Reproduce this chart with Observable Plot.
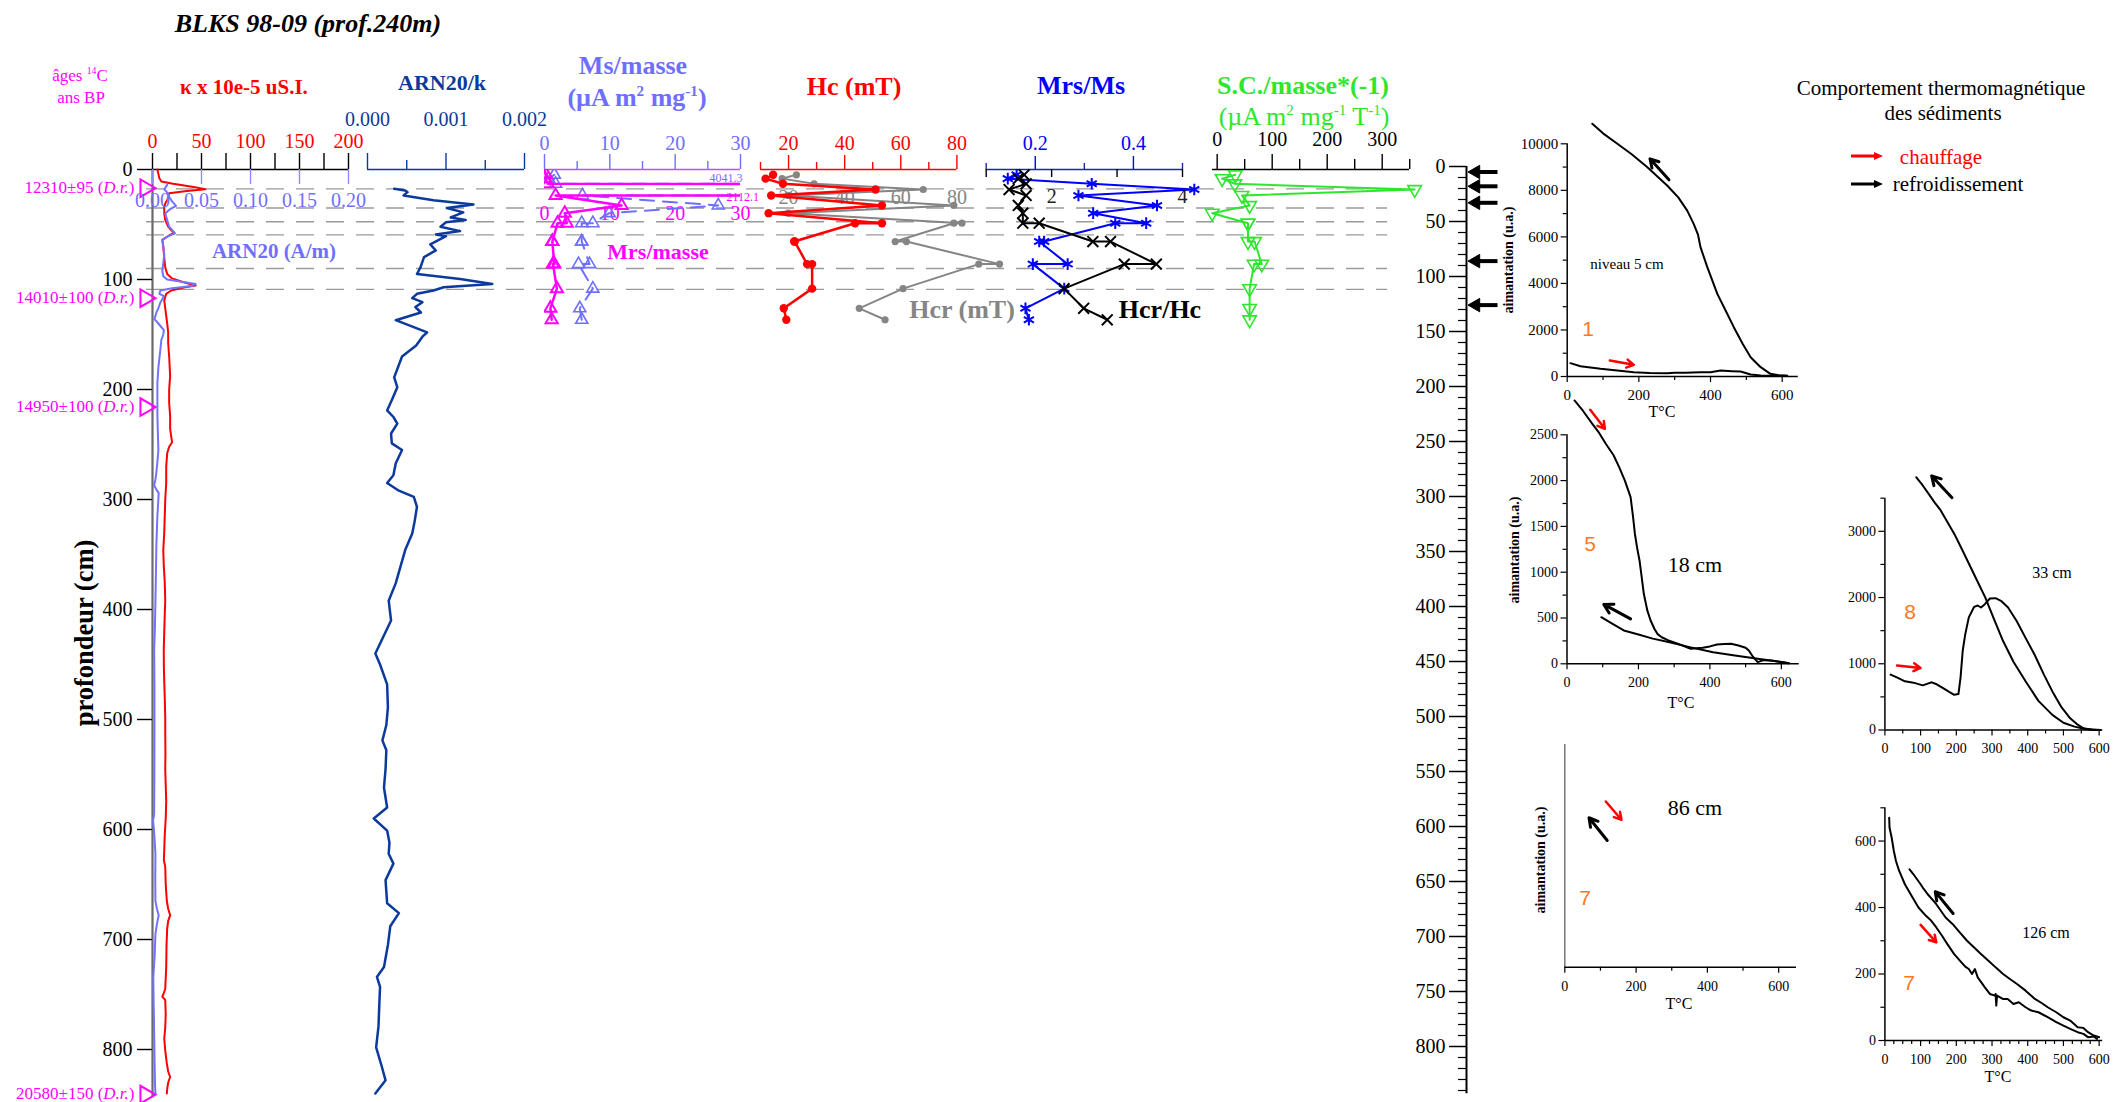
<!DOCTYPE html>
<html lang="fr">
<head>
<meta charset="utf-8">
<title>BLKS 98-09 (prof.240m)</title>
<script src="https://cdn.jsdelivr.net/npm/d3@7"></script>
<script src="https://cdn.jsdelivr.net/npm/@observablehq/plot@0.6"></script>
<style>
html,body{margin:0;padding:0;background:#fff;}
#root{position:relative;width:2114px;height:1102px;overflow:hidden;background:#fff;font-family:"Liberation Serif","Times New Roman",serif;color:#000;}
#root > svg{position:absolute;left:0;top:0;}
.t{position:absolute;white-space:nowrap;transform:translate(-50%,-50%);line-height:1;}
.b{font-weight:bold;}
.rot{transform:translate(-50%,-50%) rotate(-90deg);}
.o{font-family:"Liberation Sans",Arial,sans-serif;color:#ff7722;font-size:21px;}
sup{font-size:0.58em;vertical-align:0.65em;line-height:0;}
</style>
</head>
<body>
<div id="root"></div>
<script>
// ===================== DATA =====================
// kappa (x 1e-5 SI) : [depth cm, value]
const kappa = [[0,5],[4,6],[8,7],[11,9],[13,21],[16,42],[18,54],[19.5,35],[21.5,17],[25,16],[28,15],[31,13],[34,12],[40,12],[46,13],[52,16],[55,19],[57.6,22],[60,17],[64,10],[70,11],[80,12],[89,13],[95,15],[99,20],[102,30],[105.5,44],[107,33],[110,19],[113,14],[119,12],[126,13],[133,14],[140,15],[148,16],[158,16],[170,17],[188,18],[200,17],[212,17],[224,18],[236,18],[248,20],[252,17],[258,15],[270,14],[285,14],[300,13],[315,12.5],[330,12],[346,11],[360,11.5],[375,12.5],[392,13],[405,12.5],[420,12],[437,11.5],[452,11.6],[466,12],[480,12.5],[498,13],[513,13],[530,13.2],[545,13],[560,13.5],[574,14],[590,13.5],[605,12.5],[618,12],[628,11.6],[634,13],[650,13.5],[665,14.6],[672,16],[678,18],[683,16],[690,15],[705,14.3],[725,14],[745,13],[750,11],[752,10],[755,13],[768,13.5],[780,13],[790,12],[801,13],[812,14.5],[820,16],[825,18],[830,16],[836,15],[840,14.6]];
// ARN20 (A/m) : [depth, value]
const arn20 = [[14,0.015],[18,0.012],[22,0.016],[25,0.017],[29,0.020],[33,0.024],[36,0.018],[40,0.013],[43,0.014],[46,0.015],[52,0.017],[55,0.020],[58,0.023],[61,0.015],[64,0.010],[70,0.011],[77,0.012],[85,0.011],[92,0.010],[97,0.011],[100,0.015],[102,0.030],[104,0.044],[106,0.040],[108,0.020],[110,0.008],[113,0.007],[115,0.0116],[118,0.010],[121,0.008],[126,0.006],[130,0.004],[136,0.002],[140,0.006],[146,0.0116],[150,0.011],[155,0.009],[164,0.008],[180,0.006],[194,0.005],[210,0.005],[224,0.005],[240,0.0055],[255,0.006],[268,0.0048],[275,0.004],[282,0.003],[287,0.0017],[291,0.004],[294,0.0063],[303,0.0058],[315,0.005],[340,0.004],[361,0.0036],[392,0.003],[415,0.0025],[437,0.0017],[470,0.002],[513,0.002],[550,0.0019],[586,0.0017],[592,0.0005],[600,0.0015],[622,0.003],[645,0.0028],[665,0.003],[672,0.0045],[678,0.0063],[686,0.0045],[695,0.003],[715,0.0022],[734,0.0008],[760,0.0012],[786,0.0017],[815,0.0022],[830,0.0025],[840,0.003]];
// ARN20/k : [depth, value]
const arnK = [[17.6,0.00034],[19,0.00048],[20.6,0.00051],[23.6,0.00046],[28,0.00084],[31.8,0.00135],[35,0.00101],[39,0.00122],[43.6,0.00106],[46,0.00125],[48,0.0010],[52,0.00093],[56,0.00118],[59,0.00087],[60.6,0.0010],[68,0.0008],[73.6,0.00087],[79.7,0.00072],[89,0.000675],[95,0.00063],[99.5,0.00118],[104,0.00159],[107,0.00097],[110,0.00084],[113,0.00063],[117,0.00057],[120.6,0.0007],[125,0.00061],[130,0.00068],[137,0.00036],[148,0.00076],[152,0.0007],[160,0.00062],[170,0.00044],[189,0.00034],[198,0.00038],[208,0.00032],[219,0.00025],[225,0.00033],[231,0.00038],[240,0.00030],[249,0.00031],[255,0.00044],[267,0.00036],[278,0.00033],[285,0.00025],[292,0.00040],[297.6,0.00059],[306.7,0.00063],[320,0.00060],[331,0.00057],[346,0.00048],[361,0.00042],[376,0.00036],[392,0.00027],[410,0.00030],[440,0.00010],[450,0.00016],[468,0.00025],[489,0.00026],[505,0.00024],[519,0.00019],[528,0.00024],[545,0.00023],[562,0.00021],[580,0.00025],[590,0.00008],[601,0.00025],[612,0.00028],[622,0.00027],[631,0.00033],[646,0.00023],[667,0.00025],[676,0.00040],[688,0.00029],[705,0.00026],[725,0.00021],[734,0.00012],[743,0.00016],[760,0.00015],[779,0.00014],[798,0.00011],[815,0.00018],[828,0.00023],[840,0.00010]];

// radiocarbon ages
const ageLabels = ["12310±95", "14010±100", "14950±100", "20580±150"];
const ageDepths = [17, 117, 216, 841];
// reference levels (dashed lines)
const dashDepths = [17.6, 35, 47.5, 59.5, 90, 109];

// hysteresis samples
const hystDepth = [4.8, 8.3, 13, 18.2, 23.6, 32.7, 39.7, 48.8, 48.8, 65.5, 65.5, 86, 86, 108.3, 126.2, 136.6];
const msMasse   = [1.5, 0.6, 1.7, 4041.3, 5.8, 26.6, 9.9, 7.4, 5.7, 5.7, 5.7, 6.9, 5.2, 7.4, 5.4, 5.7];
const mrsMasse  = [0.25, 0.1, 0.5, 2112.1, 1.7, 11.8, 3.1, 3.4, 2.0, 1.2, 1.2, 1.5, 1.3, 1.9, 0.9, 1.1];
const hcVals    = [14.5, 11.8, 18.0, 51.0, 13.8, 53.3, 12.9, 53.3, 43.7, 22.0, 22.2, 26.6, 28.4, 28.4, 18.3, 19.2];
const hcrVals   = [22.8, 17.7, 29.1, 68.0, 19.9, 78.9, 19.9, 81.8, 78.9, 58.0, 62.0, 95.2, 87.8, 60.8, 45.2, 54.4];
const mrsMsVals = [0.162, 0.144, 0.315, 0.524, 0.288, 0.448, 0.318, 0.426, 0.363, 0.218, 0.208, 0.266, 0.195, 0.259, 0.180, 0.187];
const hcrHcVals = [1.58, 1.49, 1.61, 1.35, 1.61, 1.49, 1.56, 1.56, 1.81, 2.63, 2.90, 3.60, 3.11, 2.19, 2.49, 2.85];
const scVals    = [33, 9, 32, 359, 45, 59, -9, 56, 56, 56, 68, 81, 67, 59, 59, 59];

// thermomagnetic sample levels (arrows on right depth axis)
const thermoDepths = [5, 18, 33, 86, 126];

// thermomagnetic curves : [T °C, aimantation u.a.]
const heat5 = [[9,573],[37,444],[93,330],[140,260],[186,186],[230,150],[279,143],[300,165],[330,160],[372,186],[400,180],[428,258],[460,230],[484,215],[512,86],[540,45],[558,30],[590,35],[614,30]];
const cool5 = [[70,10860],[100,10450],[140,10000],[180,9550],[223,9000],[279,8210],[310,7700],[335,7130],[353,6560],[365,6100],[372,5560],[391,4700],[419,3550],[440,2900],[465,2120],[490,1400],[512,830],[540,400],[567,115],[590,50],[614,30]];
const heat18 = [[21,2875],[45,2760],[71,2620],[90,2520],[109,2400],[130,2280],[146,2147],[162,2000],[178,1820],[185,1600],[190,1420],[197,1250],[203,1128],[209,950],[215,764],[225,580],[234,473],[245,380],[253,327],[265,290],[284,255],[310,220],[346,164],[380,175],[400,190],[420,210],[440,215],[459,218],[480,200],[500,175],[509,145],[520,80],[534,18],[550,40],[571,36],[600,20],[621,7]];
const cool18 = [[96,509],[130,430],[159,364],[200,320],[240,275],[284,237],[340,185],[409,127],[470,90],[534,55],[580,30],[621,7]];
const heat33 = [[16,836],[35,790],[56,735],[80,715],[106,674],[120,700],[131,720],[145,690],[163,633],[180,575],[194,532],[206,542],[212,800],[218,1200],[225,1444],[235,1700],[250,1860],[260,1880],[269,1850],[280,1900],[294,1986],[310,1990],[325,1951],[345,1850],[369,1647],[395,1380],[419,1140],[445,840],[469,583],[495,340],[519,177],[540,80],[556,25],[580,5],[604,0]];
const cool33 = [[88,3816],[105,3700],[125,3547],[140,3430],[156,3319],[175,3140],[194,2965],[212,2770],[231,2559],[256,2280],[281,2002],[305,1680],[331,1343],[360,1030],[394,735],[430,440],[469,228],[500,110],[531,51],[560,15],[604,0]];
const heat126 = [[12,670],[13,640],[15,630],[19,610],[25,570],[31,540],[40,510],[56,470],[75,435],[94,400],[115,375],[130,360],[144,340],[160,315],[175,290],[194,260],[210,240],[225,222],[235,215],[244,200],[252,215],[260,190],[280,160],[294,140],[308,135],[310,140],[312,105],[314,135],[330,125],[344,125],[360,110],[375,115],[394,100],[410,90],[430,85],[456,70],[480,55],[500,45],[519,35],[540,25],[556,20],[569,10],[585,12],[594,5]];
const cool126 = [[69,515],[80,500],[90,485],[100,470],[106,460],[120,440],[144,410],[170,370],[190,350],[206,330],[230,300],[250,280],[269,260],[290,240],[310,220],[331,200],[350,185],[370,170],[394,150],[420,125],[440,112],[456,100],[480,85],[500,70],[519,60],[540,40],[555,38],[569,25],[585,15],[600,10]];

// direction arrows on thermomagnetic panels (c: red = chauffage, black = refroidissement)
const arrows5   = [{x1:284,y1:8453,x2:231,y2:9355,c:"black"},{x1:119,y1:688,x2:186,y2:501,c:"red"}];
const arrows18  = [{x1:65,y1:2773,x2:106,y2:2565,c:"red"},{x1:178,y1:491,x2:103,y2:648,c:"black"}];
const arrows33  = [{x1:34,y1:973,x2:100,y2:937,c:"red"},{x1:188,y1:3507,x2:131,y2:3836,c:"black"}];
const arrows86  = [{x1:115,y1:0.744,x2:159,y2:0.662,c:"red"},{x1:119,y1:0.569,x2:68,y2:0.671,c:"black"}];
const arrows126 = [{x1:191,y1:382,x2:141,y2:448,c:"black"},{x1:100,y1:348,x2:144,y2:295,c:"red"}];

// ===================== COLOURS =====================
const RED = "#ff0000", PER = "#6f6fff", MAG = "#ff00ff", NAVY = "#0b3a9c", BLUE = "#0000ff",
      GREEN = "#2ee62e", GRAY = "#858585";
const FONT = "Liberation Serif";

// tables built from arrays
const ages = ageLabels.map((label, i) => ({label, depth: ageDepths[i]}));
const hyst = hystDepth.map((depth, i) => ({depth, ms: msMasse[i], mrs: mrsMasse[i], hc: hcVals[i], hcr: hcrVals[i],
  mrsMs: mrsMsVals[i], hcrHc: hcrHcVals[i], sc: scVals[i]}));

// ===================== LAYOUT HELPERS =====================
const W = 2114, H = 1102;
const root = document.getElementById("root");
const SVGSTYLE = "background:transparent;font-family:'Liberation Serif','Times New Roman',serif;font-size:20px;overflow:visible;position:absolute;left:0;top:0;max-width:none;";
const str = d => String(d);

function panel(p, makeMarks) {
  const fw = p.x1 - p.x0, fh = p.y1 - p.y0;
  const k = {
    tTop: (t, len, c, sw = 1.4) => Plot.tickX(t, {x: d => d, insetTop: -len, insetBottom: fh, stroke: c, strokeWidth: sw}),
    tDown: (t, len, c, sw = 1.4) => Plot.tickX(t, {x: d => d, insetTop: 0, insetBottom: fh - len, stroke: c, strokeWidth: sw}),
    tBottom: (t, len, c, sw = 1.2) => Plot.tickX(t, {x: d => d, insetTop: fh, insetBottom: -len, stroke: c, strokeWidth: sw}),
    tLeft: (t, len, c, sw = 1.2) => Plot.tickY(t, {y: d => d, insetLeft: -len, insetRight: fw, stroke: c, strokeWidth: sw}),
    lTop: (t, fmt, dy, c, size) => Plot.text(t, {x: d => d, frameAnchor: "top", lineAnchor: "middle", dy, text: fmt, fill: c, fontSize: size, fontFamily: FONT}),
    lBottom: (t, fmt, dy, c, size) => Plot.text(t, {x: d => d, frameAnchor: "bottom", lineAnchor: "middle", dy, text: fmt, fill: c, fontSize: size, fontFamily: FONT}),
    lLeft: (t, fmt, dx, c, size) => Plot.text(t, {y: d => d, frameAnchor: "left", lineAnchor: "middle", dx, textAnchor: "end", text: fmt, fill: c, fontSize: size, fontFamily: FONT})
  };
  const svg = Plot.plot({
    width: W, height: H,
    marginLeft: p.x0, marginRight: W - p.x1, marginTop: p.y0, marginBottom: H - p.y1,
    x: {domain: p.xd, range: [p.x0, p.x1], axis: null},
    y: {domain: p.yd, range: p.yr || [p.y1, p.y0], axis: null},
    style: SVGSTYLE,
    marks: makeMarks(k)
  });
  root.appendChild(svg);
  return svg;
}

function lab(html, x, y, css = "", cls = "") {
  const d = document.createElement("div");
  d.className = "t " + cls;
  d.style.cssText = `left:${x}px;top:${y}px;` + css;
  d.innerHTML = html;
  root.appendChild(d);
}

// depth scales
const Y0L = 169, Y1L = 169 + 843 * 1.1;
const Y0R = 166, Y1R = 166 + 843 * 1.1;
const depthL = {y0: Y0L, y1: Y1L, yd: [0, 843], yr: [Y0L, Y1L]};

// ===================== DEPTH PANELS =====================
// reference levels
panel({x0: 146, x1: 1387, xd: [0, 1], ...depthL}, k => [
  Plot.ruleY(dashDepths, {y: d => d, stroke: "#9a9a9a", strokeWidth: 1.3, strokeDasharray: "18,12"})
]);

// kappa + depth axis + ages
const svgL = panel({x0: 152, x1: 348, xd: [0, 200], ...depthL}, k => [
  Plot.ruleY([0], {stroke: "black", strokeWidth: 1.6}),
  k.tTop(d3.range(0, 201, 25), 16, "black", 1.4),
  k.lTop([0, 50, 100, 150, 200], str, -28, RED, 20),
  Plot.ruleX([0], {stroke: "#6a6a6a", strokeWidth: 2.2}),
  k.tLeft(d3.range(0, 801, 100), 15, "black", 1.4),
  k.lLeft(d3.range(0, 801, 100), str, -20, "black", 20),
  Plot.line(kappa, {x: d => d[1], y: d => d[0], stroke: RED, strokeWidth: 2}),
  Plot.dot(ages, {frameAnchor: "left", y: "depth", dx: -7, symbol: "triangle", rotate: 90, r: 6.5, stroke: MAG, strokeWidth: 2, fill: "none"}),
  Plot.text(ages, {frameAnchor: "left", y: "depth", dx: -18, dy: -1, textAnchor: "end", text: "label", fill: MAG, fontSize: 17, fontFamily: FONT})
]);
d3.select(svgL).selectAll("text").filter(function () { return /±/.test(this.textContent); }).each(function () {
  const base = this.textContent;
  const t = d3.select(this);
  t.text(base + " (");
  t.append("tspan").attr("font-style", "italic").text("D.r.");
  t.append("tspan").text(")");
});

// ARN20 (A/m), same frame
panel({x0: 152, x1: 348, xd: [0, 0.2], ...depthL}, k => [
  k.tDown([0, 0.05, 0.1, 0.15, 0.2], 15, "#8c8cff", 1.4),
  k.lTop([0, 0.05, 0.1, 0.15, 0.2], d => d.toFixed(2), 31, PER, 20),
  Plot.line(arn20, {x: d => d[1], y: d => d[0], stroke: "#7272ff", strokeWidth: 2})
]);

// ARN20/k
panel({x0: 367, x1: 524, xd: [0, 0.002], ...depthL}, k => [
  Plot.ruleY([0], {stroke: NAVY, strokeWidth: 1.6}),
  k.tTop([0, 0.001, 0.002], 16, NAVY), k.tTop([0.0005, 0.0015], 9, NAVY),
  k.lTop([0, 0.001, 0.002], d => d.toFixed(3), -50, NAVY, 20),
  Plot.line(arnK, {x: d => d[1], y: d => d[0], stroke: NAVY, strokeWidth: 2.5})
]);

// Ms/masse & Mrs/masse
panel({x0: 544, x1: 740, xd: [0, 30], ...depthL}, k => [
  Plot.ruleY([0], {stroke: "#c04cff", strokeWidth: 1.6}),
  k.tTop([0, 10, 20, 30], 15, PER), k.tTop([5, 15, 25], 8, PER),
  k.lTop([0, 10, 20, 30], str, -26, PER, 20),
  k.lTop([0, 10, 20, 30], str, 44, MAG, 20),
  Plot.line(hyst, {x: "ms", y: "depth", stroke: PER, strokeWidth: 2, strokeDasharray: "14,9", clip: true}),
  Plot.dot(hyst, {x: "ms", y: "depth", symbol: "triangle", r: 4.5, stroke: PER, strokeWidth: 1.6, fill: "none", clip: true}),
  Plot.line(hyst, {x: "mrs", y: "depth", stroke: MAG, strokeWidth: 2.5, clip: true}),
  Plot.dot(hyst, {x: "mrs", y: "depth", symbol: "triangle", r: 4.5, stroke: MAG, strokeWidth: 2, fill: "none", clip: true}),
  Plot.text(hyst.filter(d => d.ms > 30), {frameAnchor: "right", y: "depth", text: d => d.ms.toFixed(1), textAnchor: "end", dx: 2, dy: -11, fill: PER, fontSize: 12, fontFamily: FONT}),
  Plot.text(hyst.filter(d => d.mrs > 30), {frameAnchor: "right", y: "depth", text: d => d.mrs.toFixed(1), textAnchor: "start", dx: -14, dy: 8, fill: MAG, fontSize: 12, fontFamily: FONT})
]);

// Hc & Hcr
panel({x0: 760, x1: 956.4, xd: [10, 80], ...depthL}, k => [
  Plot.ruleY([0], {stroke: RED, strokeWidth: 1.6}),
  k.tTop([20, 40, 60, 80], 14, RED), k.tTop([10, 30, 50, 70], 7, RED),
  k.lTop([20, 40, 60, 80], str, -26, RED, 20),
  k.lTop([20, 40, 60, 80], str, 28, GRAY, 20),
  Plot.line(hyst, {x: "hcr", y: "depth", stroke: GRAY, strokeWidth: 2}),
  Plot.dot(hyst, {x: "hcr", y: "depth", r: 3.6, fill: GRAY}),
  Plot.line(hyst, {x: "hc", y: "depth", stroke: RED, strokeWidth: 2.5}),
  Plot.dot(hyst, {x: "hc", y: "depth", r: 4.2, fill: RED})
]);

// Mrs/Ms
panel({x0: 985.7, x1: 1182, xd: [0.1, 0.5], ...depthL}, k => [
  Plot.ruleY([0], {stroke: "#1c2a9c", strokeWidth: 1.6}),
  k.tTop([0.2, 0.4], 13, BLUE), k.tTop([0.1, 0.3, 0.5], 6, "#1c2a9c"),
  k.lTop([0.2, 0.4], d => d.toFixed(1), -26, BLUE, 20),
  Plot.line(hyst, {x: "mrsMs", y: "depth", stroke: BLUE, strokeWidth: 2}),
  Plot.dot(hyst, {x: "mrsMs", y: "depth", symbol: "asterisk", r: 5.5, stroke: BLUE, strokeWidth: 2})
]);
// Hcr/Hc (same frame)
panel({x0: 985.7, x1: 1182, xd: [1, 4], ...depthL}, k => [
  k.tDown([1, 2, 3, 4], 8, "black", 1.4),
  k.lTop([2, 4], str, 27, "#222", 20),
  Plot.line(hyst, {x: "hcrHc", y: "depth", stroke: "black", strokeWidth: 2}),
  Plot.dot(hyst, {x: "hcrHc", y: "depth", symbol: "times", r: 5, stroke: "black", strokeWidth: 2})
]);

// S.C./masse*(-1)
panel({x0: 1212, x1: 1409, xd: [-8.5, 349.6], ...depthL}, k => [
  Plot.ruleY([0], {stroke: "black", strokeWidth: 1.6}),
  k.tTop([0, 100, 200, 300], 15, "black"), k.tTop([50, 150, 250, 350], 10, "black"),
  k.lTop([0, 100, 200, 300], str, -30, "black", 20),
  Plot.line(hyst, {x: "sc", y: "depth", stroke: GREEN, strokeWidth: 2}),
  Plot.dot(hyst, {x: "sc", y: "depth", symbol: "triangle", rotate: 180, r: 5, stroke: GREEN, strokeWidth: 1.6, fill: "none"})
]);

// right depth axis with thermomagnetic sample arrows
panel({x0: 1466, x1: 1497, y0: Y0R, y1: Y1R, xd: [0, 1], yd: [0, 843], yr: [Y0R, Y1R]}, k => [
  Plot.ruleX([0], {stroke: "black", strokeWidth: 2}),
  k.tLeft(d3.range(0, 801, 50), 17, "black", 1.5),
  k.tLeft(d3.range(0, 841, 10).filter(d => d % 50), 8, "black", 1.2),
  k.lLeft(d3.range(0, 801, 50), str, -21, "black", 20),
  Plot.link(thermoDepths, {x1: 1, x2: 0.4, y1: d => d, y2: d => d, stroke: "black", strokeWidth: 4}),
  Plot.dot(thermoDepths, {x: 0.3, y: d => d, symbol: "triangle", rotate: -90, r: 5, fill: "black", stroke: "black", strokeWidth: 1})
]);

// ===================== THERMOMAGNETIC PANELS =====================
function thermo(c) {
  return panel({x0: c.x0, x1: c.x1, y0: c.y0, y1: c.y1, xd: c.xd, yd: c.yd}, k => {
    const m = [
      Plot.ruleX([0], {stroke: c.yAxisColor || "black", strokeWidth: 1.5}),
      Plot.ruleY([0], {stroke: "black", strokeWidth: 1.6}),
      k.tBottom(c.xTicks, 6, "black"), k.tBottom(c.xMinor, 4, "black"),
      k.lBottom(c.xTicks, str, 19, "black", c.fs)
    ];
    if (c.yTicks) m.push(k.tLeft(c.yTicks, 6, "black"), k.tLeft(c.yMinor, 4, "black"), k.lLeft(c.yTicks, str, -9, "black", c.fs));
    if (c.heat) m.push(Plot.line(c.heat, {x: d => d[0], y: d => d[1], stroke: "black", strokeWidth: 2}));
    if (c.cool) m.push(Plot.line(c.cool, {x: d => d[0], y: d => d[1], stroke: "black", strokeWidth: 2}));
    m.push(Plot.arrow(c.arrows.filter(a => a.c === "red"), {x1: "x1", y1: "y1", x2: "x2", y2: "y2", stroke: RED, strokeWidth: 2.5, headLength: 7}));
    m.push(Plot.arrow(c.arrows.filter(a => a.c === "black"), {x1: "x1", y1: "y1", x2: "x2", y2: "y2", stroke: "black", strokeWidth: 3, headLength: 8}));
    return m;
  });
}

thermo({x0: 1566.7, x1: 1797.8, y0: 143.3, y1: 376, xd: [0, 645], yd: [0, 10000], fs: 15,
  xTicks: [0, 200, 400, 600], xMinor: [100, 300, 500], yTicks: d3.range(0, 10001, 2000), yMinor: d3.range(1000, 10000, 2000),
  heat: heat5, cool: cool5, arrows: arrows5});
thermo({x0: 1566.5, x1: 1798.7, y0: 434.3, y1: 663.3, xd: [0, 650], yd: [0, 2500], fs: 14,
  xTicks: [0, 200, 400, 600], xMinor: [100, 300, 500], yTicks: d3.range(0, 2501, 500), yMinor: d3.range(250, 2500, 500),
  heat: heat18, cool: cool18, arrows: arrows18});
thermo({x0: 1884.4, x1: 2102.2, y0: 497.7, y1: 729.5, xd: [0, 610], yd: [0, 3500], fs: 14,
  xTicks: d3.range(0, 601, 100), xMinor: d3.range(50, 600, 100), yTicks: [0, 1000, 2000, 3000], yMinor: [500, 1500, 2500, 3500],
  heat: heat33, cool: cool33, arrows: arrows33});
thermo({x0: 1564.3, x1: 1796, y0: 744, y1: 966.7, xd: [0, 650], yd: [0, 1], fs: 14, yAxisColor: "#777",
  xTicks: [0, 200, 400, 600], xMinor: [100, 300, 500], arrows: arrows86});
thermo({x0: 1884.4, x1: 2102.2, y0: 807.3, y1: 1040, xd: [0, 610], yd: [0, 700], fs: 14,
  xTicks: d3.range(0, 601, 100), xMinor: d3.range(25, 610, 25).filter(d => d % 100), yTicks: [0, 200, 400, 600], yMinor: [100, 300, 500, 700],
  heat: heat126, cool: cool126, arrows: arrows126});

// ===================== TEXT =====================
lab("BLKS 98-09 (prof.240m)", 308, 24, "font-size:26px;font-weight:bold;font-style:italic;");
lab("âges <sup>14</sup>C", 80, 75, `font-size:17px;color:${MAG};`);
lab("ans BP", 81, 97, `font-size:17px;color:${MAG};`);
lab("κ x 10e-5 uS.I.", 244, 87, `font-size:21px;color:${RED};`, "b");
lab("ARN20/k", 442, 83, `font-size:22px;color:${NAVY};`, "b");
lab("Ms/masse", 633, 66, `font-size:26px;color:${PER};`, "b");
lab("(µA m<sup>2</sup> mg<sup>-1</sup>)", 637, 98, `font-size:26px;color:${PER};`, "b");
lab("Hc (mT)", 854, 87, `font-size:26px;color:${RED};`, "b");
lab("Mrs/Ms", 1081, 86, `font-size:26px;color:${BLUE};`, "b");
lab("S.C./masse*(-1)", 1303, 86, `font-size:26px;color:${GREEN};`, "b");
lab("(µA m<sup>2</sup> mg<sup>-1</sup> T<sup>-1</sup>)", 1304, 117, `font-size:26px;color:${GREEN};`);
lab("ARN20 (A/m)", 274, 251, `font-size:21px;color:${PER};`, "b");
lab("Mrs/masse", 658, 252, `font-size:22px;color:${MAG};`, "b");
lab("Hcr (mT)", 962, 310, `font-size:26px;color:${GRAY};`, "b");
lab("Hcr/Hc", 1160, 310, "font-size:26px;color:#000;", "b");
lab("profondeur (cm)", 84, 633, "font-size:26.5px;", "b rot");

lab("Comportement thermomagnétique", 1941, 88, "font-size:21px;");
lab("des sédiments", 1943, 113, "font-size:21px;");
lab(`<svg width="34" height="10" style="display:block"><line x1="1" y1="5" x2="26" y2="5" stroke="${RED}" stroke-width="3"/><path d="M24,1 L33,5 L24,9 Z" fill="${RED}"/></svg>`, 1867, 156);
lab(`<svg width="34" height="10" style="display:block"><line x1="1" y1="5" x2="26" y2="5" stroke="#000" stroke-width="3"/><path d="M24,1 L33,5 L24,9 Z" fill="#000"/></svg>`, 1867, 184);
lab("chauffage", 1941, 157, `font-size:21px;color:${RED};`);
lab("refroidissement", 1958, 184, "font-size:21px;");

// thermomagnetic annotations
lab("niveau 5 cm", 1627, 264, "font-size:15px;");
lab("1", 1588, 328, "", "o");
lab("T°C", 1662, 412, "font-size:16px;");
lab("aimantation (u.a.)", 1509, 260, "font-size:14px;", "b rot");
lab("5", 1590, 543, "", "o");
lab("18 cm", 1695, 565, "font-size:22px;");
lab("T°C", 1681, 703, "font-size:16px;");
lab("aimantation (u.a.)", 1515, 550, "font-size:14px;", "b rot");
lab("8", 1910, 611, "", "o");
lab("33 cm", 2052, 573, "font-size:16px;");
lab("86 cm", 1695, 808, "font-size:22px;");
lab("7", 1585, 897, "", "o");
lab("T°C", 1679, 1004, "font-size:16px;");
lab("aimantation (u.a.)", 1541, 860, "font-size:14px;", "b rot");
lab("126 cm", 2046, 933, "font-size:16px;");
lab("7", 1909, 982, "", "o");
lab("T°C", 1998, 1077, "font-size:16px;");
</script>
</body>
</html>
